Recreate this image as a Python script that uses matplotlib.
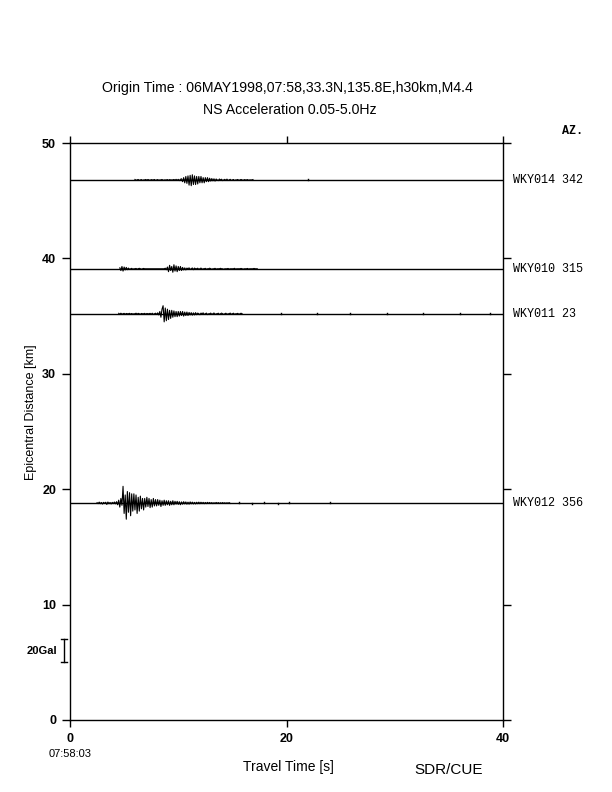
"""Record section: NS acceleration, 06 MAY 1998 event (4 stations)."""
import numpy as np
import matplotlib
matplotlib.use('Agg')
import matplotlib.pyplot as plt

plt.rcParams['font.family'] = ['Liberation Sans', 'DejaVu Sans']

# --- data ----------------------------------------------------------------
stations  = ['WKY014', 'WKY010', 'WKY011', 'WKY012']
azimuths  = [342, 315, 23, 356]
distances = [46.8, 39.1, 35.2, 18.8]     # km
t_start   = [6.0, 4.6, 4.5, 2.5]         # s, first sample of each trace
dt = 0.1                                 # s

# amplitudes in Gal, one value per sample
amp_wky014 = [
    0.4, -0.3, 0.0, 0.4, -0.4, 0.0, 0.3, -0.4, 0.0, 0.0,
    0.4, -0.3, 0.4, 0.0, -0.4, 0.3, 0.0, 0.0, 0.4, -0.4,
    0.0, 0.3, -0.3, 0.0, 0.0, 0.4, -0.3, 0.0, 0.0, 0.0,
    0.3, -0.4, 0.3, 0.0, 0.0, 0.0, 0.4, -0.3, 0.5, -0.4,
    0.5, -0.6, 0.5,
    1.0, -1.5, 2.0, -2.5, 3.0, -3.0, 3.5,
    -4.5, 4.0, -5.0, 4.5, -4.0, 3.5, -4.0, 3.0, -3.5, 3.0,
    -2.5, 3.0, -2.5, 2.0, -2.5, 2.0, -1.5, 2.0, -1.5, 1.5,
    -1.0, 1.2, -0.8, 1.0, -1.0, 0.8, 0.0, -0.6, 0.8, 0.0,
    0.6, -0.6, 0.0, 0.5, -0.5, 0.7, -0.5, 0.0, 0.5, -0.4,
    0.0, 0.4, -0.5, 0.0, 0.0, 0.4, -0.4, 0.0, 0.4, 0.0,
    -0.4, 0.3, 0.0, 0.0, 0.3, -0.3, 0.0, 0.0, 0.0, 0.3,
]
amp_wky010 = [
    0.8, -1.5, 2.0, -2.0, 1.5, -1.0, 1.2, -0.8, 0.6, -0.5,
    0.0, 0.4, -0.4, 0.0, 0.0, 0.3, -0.3, 0.0, 0.4, 0.0,
    -0.3, 0.0, 0.3, 0.0, 0.0, 0.0, 0.0, 0.0, 0.0, 0.0,
    0.0, 0.0, 0.0, 0.0, 0.0, 0.0, 0.0, 0.0, 0.0, 0.0,
    0.0, 0.0, 0.5, -0.8,
    1.5, -2.5, 3.0, -1.5, 2.0, -3.0, 3.5, -2.0, 2.5, -2.5,
    2.0, -1.5, 2.0, -1.5,
    1.2, -1.0, 0.8, -1.0, 0.6, 0.0, 0.8, -0.6, 0.0, 0.7,
    -0.8, 0.6, 0.0, 0.0, 0.5, -0.5, 0.0, 0.6, -0.4, 0.0,
    0.0, 0.4, -0.4, 0.0, 0.0, 0.5, 0.0, -0.4, 0.0, 0.0,
    0.4, -0.3, 0.0, 0.0, 0.0, 0.4, 0.0, 0.0, -0.4, 0.0,
    0.0, 0.0, 0.3, -0.3, 0.0, 0.0, 0.0, 0.0, 0.4, -0.3,
    0.0, 0.0, 0.0, 0.0, 0.3, 0.0, -0.3, 0.0, 0.0, 0.0,
    0.3, -0.3, 0.0, 0.0, 0.0, 0.0, 0.3, 0.0, 0.0, 0.0,
]
amp_wky011 = [
    0.4, -0.4, 0.5, -0.3, 0.0, 0.4, -0.5, 0.3, 0.0, 0.0,
    0.4, -0.4, 0.3, -0.3, 0.0, 0.0, 0.5, -0.4, 0.4, 0.0,
    -0.4, 0.3, 0.0, 0.0, 0.4, -0.5, 0.3, 0.0, 0.0, 0.4,
    -0.4, 0.5, -0.6, 0.0, 0.5, -0.6, 0.8, -1.0,
    2.0, -3.0, 4.0,
    7.0, -7.0, 5.0, -6.0, 4.0, -5.0, 3.0, -4.0, 3.0, -3.0,
    2.5, -2.5, 2.0, -2.5, 2.0, -2.0, 2.0, -1.5, 2.0, -2.0,
    1.5, -1.5, 1.5, -1.5,
    1.2, -1.0, 1.0, -1.2, 0.8, -1.0, 1.0, -0.8, 0.6, 0.0,
    -0.8, 0.6, 0.0, 0.8, -0.6, 0.0, 0.6, -0.7, 0.0, 0.0,
    0.6, -0.5, 0.0, 0.7, -0.6, 0.0, 0.0, 0.5, -0.6, 0.0,
    0.6, 0.0, -0.5, 0.0, 0.5, -0.5, 0.0, 0.0, 0.6, -0.4,
    0.0, 0.5, -0.5, 0.0, 0.0, 0.4, -0.5, 0.0, 0.5, 0.0,
]
amp_wky012 = [
    0.3, -0.5, 0.8, -0.6, 0.5, -0.9, 0.6, -0.4, 0.7, -1.2,
    0.9, -0.6, 0.5, -0.8, 0.6, -0.5, 0.9, -0.7, 1.2, -1.5,
    2.5, -3.5, 4.0, -2.0,
    14.5, -9.0, 7.0, -14.0, 10.0, -8.0, 9.0, -11.0, 8.0, -7.0,
    8.0, -6.0, 7.0, -9.0, 5.0, -7.0, 6.0, -5.0, 4.0, -6.0,
    4.0, -3.5, 5.0, -3.0, 4.0, -4.0, 3.0, -3.5, 4.0, -2.5,
    3.0, -2.5, 3.0, -2.0, 2.5, -3.0, 2.0, -2.0, 2.5, -2.0,
    2.0, -1.5, 2.0, -2.0, 1.5, -1.5, 2.0, -1.5, 1.5, -1.0,
    1.5, -1.2, 1.2, -1.5, 1.0, -1.0, 1.2, -0.8, 1.0, -1.0,
    0.8, -1.0, 1.0, -0.7, 0.8, -0.8, 0.6, -0.8, 0.7, -0.6,
    0.8, -0.6, 0.7, -0.5, 0.6, -0.6, 0.5, -0.5, 0.6, -0.4,
    0.5, -0.4, 0.4, -0.5, 0.3, -0.4, 0.5, -0.3, 0.4, -0.4,
    0.3, -0.3, 0.4, -0.3, 0.3, -0.4, 0.3, -0.3, 0.4, -0.3,
]
amplitudes = [amp_wky014, amp_wky010, amp_wky011, amp_wky012]

# isolated small blips further along each trace: (time s, amplitude Gal)
blips_wky014 = [(22.0, 0.8)]
blips_wky010 = []
blips_wky011 = [(19.5, 0.5), (21.0, -0.5), (22.8, 0.6), (24.2, -0.5),
                (25.9, 0.5), (27.5, -0.5), (29.3, 0.6), (31.0, -0.5),
                (32.6, 0.5), (34.4, -0.6), (36.0, 0.5), (37.5, -0.5),
                (38.8, 0.6)]
blips_wky012 = [(15.6, 0.5), (16.8, -0.4), (17.9, 0.5), (19.2, -0.4),
                (20.2, 0.5), (22.0, 0.4), (24.0, 0.5), (25.6, 0.4)]
blips = [blips_wky014, blips_wky010, blips_wky011, blips_wky012]

gal_bar = 20.0      # Gal
km_per_gal = 0.1    # vertical scale of the traces

# ------------------------------------------------------------------------
fig = plt.figure(figsize=(6.12, 7.92), dpi=100)
ax = fig.add_axes([70/612, 1 - 720/792, 433/612, 577/792])

for d, t0, amp, bl in zip(distances, t_start, amplitudes, blips):
    ax.plot([0, 40], [d, d], color='k', lw=1.0)
    a = np.asarray(amp)
    t = t0 + dt*np.arange(len(a))
    ax.plot(t, d + km_per_gal*a, color='k', lw=0.8)
    for tb, ab in bl:
        ax.plot([tb, tb], [d, d + km_per_gal*ab], color='k', lw=1.0)

ax.set_xlim(0, 40)
ax.set_ylim(0, 50)
ax.set_xticks([0, 20, 40])
ax.set_yticks([0, 10, 20, 30, 40, 50])
ax.tick_params(axis='both', direction='out', length=6, width=1.0,
               labelsize=9, pad=4, top=True, right=True)
ax.tick_params(axis='x', length=5)
for lab in ax.get_xticklabels() + ax.get_yticklabels():
    lab.set_fontweight('bold')
for sp in ax.spines.values():
    sp.set_linewidth(1.0)

# 20 Gal scale bar, left of the axis
xb = -0.55
y0 = 5.0
ax.plot([xb, xb], [y0, y0 + km_per_gal*gal_bar], color='k', lw=1.0, clip_on=False)
for yy in (y0, y0 + km_per_gal*gal_bar):
    ax.plot([xb - 0.25, xb + 0.25], [yy, yy], color='k', lw=1.0, clip_on=False)
ax.text(-1.2, y0 + km_per_gal*gal_bar/2, '20Gal', ha='right', va='center',
        fontsize=8, fontweight='bold')

# station name + azimuth on the right
mono = ['Liberation Mono', 'DejaVu Sans Mono']
for name, az, d in zip(stations, azimuths, distances):
    ax.text(40.9, d, f'{name} {az}', ha='left', va='center', fontsize=8.5,
            family=mono)
fig.text(573/612, 1 - 131/792, 'AZ.', ha='center', va='center', fontsize=8.5,
         family=mono, fontweight='bold')

fig.text(287/612, 1 - 88/792,
         'Origin Time : 06MAY1998,07:58,33.3N,135.8E,h30km,M4.4',
         ha='center', va='center', fontsize=10.2)
fig.text(290/612, 1 - 110/792, 'NS Acceleration 0.05-5.0Hz',
         ha='center', va='center', fontsize=10.2)

fig.text(70/612, 1 - 754/792, '07:58:03', ha='center', va='center', fontsize=8)
fig.text(288/612, 1 - 767/792, 'Travel Time [s]', ha='center', va='center',
         fontsize=10)
fig.text(449/612, 1 - 770/792, 'SDR/CUE', ha='center', va='center',
         fontsize=11)
fig.text(31/612, 1 - 412/792, 'Epicentral Distance [km]', ha='center',
         va='center', rotation=90, fontsize=9)

fig.savefig('out.png', dpi=100)
